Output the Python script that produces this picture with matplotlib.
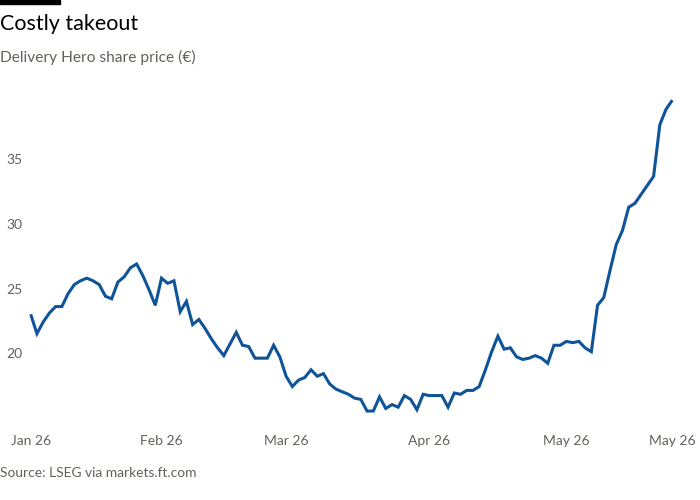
import matplotlib
matplotlib.use("Agg")
import matplotlib.pyplot as plt
from matplotlib.patches import Rectangle

plt.rcParams['font.family'] = ['Lato', 'DejaVu Sans']

title = "Costly takeout"
subtitle = "Delivery Hero share price (€)"
source = "Source: LSEG via markets.ft.com"

prices = [
    23.0, 21.5, 22.4, 23.1, 23.6, 23.6, 24.6, 25.3, 25.6, 25.8,
    25.6, 25.3, 24.4, 24.2, 25.5, 25.9, 26.6, 26.9, 26.0, 24.9,
    23.7, 25.8, 25.4, 25.6, 23.2, 24.0, 22.2, 22.6, 21.9, 21.1,
    20.4, 19.8, 20.7, 21.6, 20.6, 20.5, 19.6, 19.6, 19.6, 20.6,
    19.7, 18.2, 17.4, 17.9, 18.1, 18.7, 18.2, 18.4, 17.6, 17.2,
    17.0, 16.8, 16.5, 16.4, 15.5, 15.5, 16.6, 15.7, 16.0, 15.8,
    16.7, 16.4, 15.6, 16.8, 16.7, 16.7, 16.7, 15.8, 16.9, 16.8,
    17.1, 17.1, 17.4, 18.7, 20.1, 21.3, 20.3, 20.4, 19.7, 19.5,
    19.6, 19.8, 19.6, 19.2, 20.6, 20.6, 20.9, 20.8, 20.9, 20.4,
    20.1, 23.7, 24.3, 26.4, 28.4, 29.5, 31.3, 31.6, 32.3, 33.0,
    33.7, 37.7, 38.9, 39.6,
]
x_tick_idx = [0, 21, 41, 64, 86, 103]
x_tick_labels = ["Jan 26", "Feb 26", "Mar 26", "Apr 26", "May 26", "May 26"]
y_ticks = [20, 25, 30, 35]

W, H = 700, 500
fig = plt.figure(figsize=(7, 5), dpi=100)
fig.patch.set_facecolor("white")

# axes placement in pixels
left_px, right_px = 30.7, 672.3
bottom_px, top_px = 430.4, 95.0
ax = fig.add_axes([left_px / W, 1 - bottom_px / H,
                   (right_px - left_px) / W, (bottom_px - top_px) / H])
ax.set_facecolor("none")

ax.plot(range(len(prices)), prices, color="#0f5499", lw=2.2,
        solid_joinstyle="miter", solid_capstyle="butt", clip_on=False)
ax.set_xlim(0, len(prices) - 1)
ax.set_ylim(14, 40)

for s in ax.spines.values():
    s.set_visible(False)

ax.set_xticks(x_tick_idx)
ax.set_xticklabels(x_tick_labels)
ax.set_yticks(y_ticks)
ax.set_yticklabels([str(v) for v in y_ticks])
ax.tick_params(axis="both", length=0, labelsize=10, labelcolor="#66605c")
ax.tick_params(axis="x", pad=3)
ax.tick_params(axis="y", pad=(left_px - 6) * 0.72)
for lab in ax.get_yticklabels():
    lab.set_horizontalalignment("left")

# top black bar
fig.patches.append(Rectangle((0, 1 - 4 / H), 60 / W, 4 / H,
                             transform=fig.transFigure, color="black"))

fig.text(0, 1 - 24 / H, title, fontsize=15.5, color="#000000",
         va="center", ha="left")
fig.text(0, 1 - 57 / H, subtitle, fontsize=11.2, color="#66605c",
         va="center", ha="left")
fig.text(0, 1 - 473 / H, source, fontsize=9.9, color="#66605c",
         va="center", ha="left")

fig.savefig("out.png", dpi=100)
